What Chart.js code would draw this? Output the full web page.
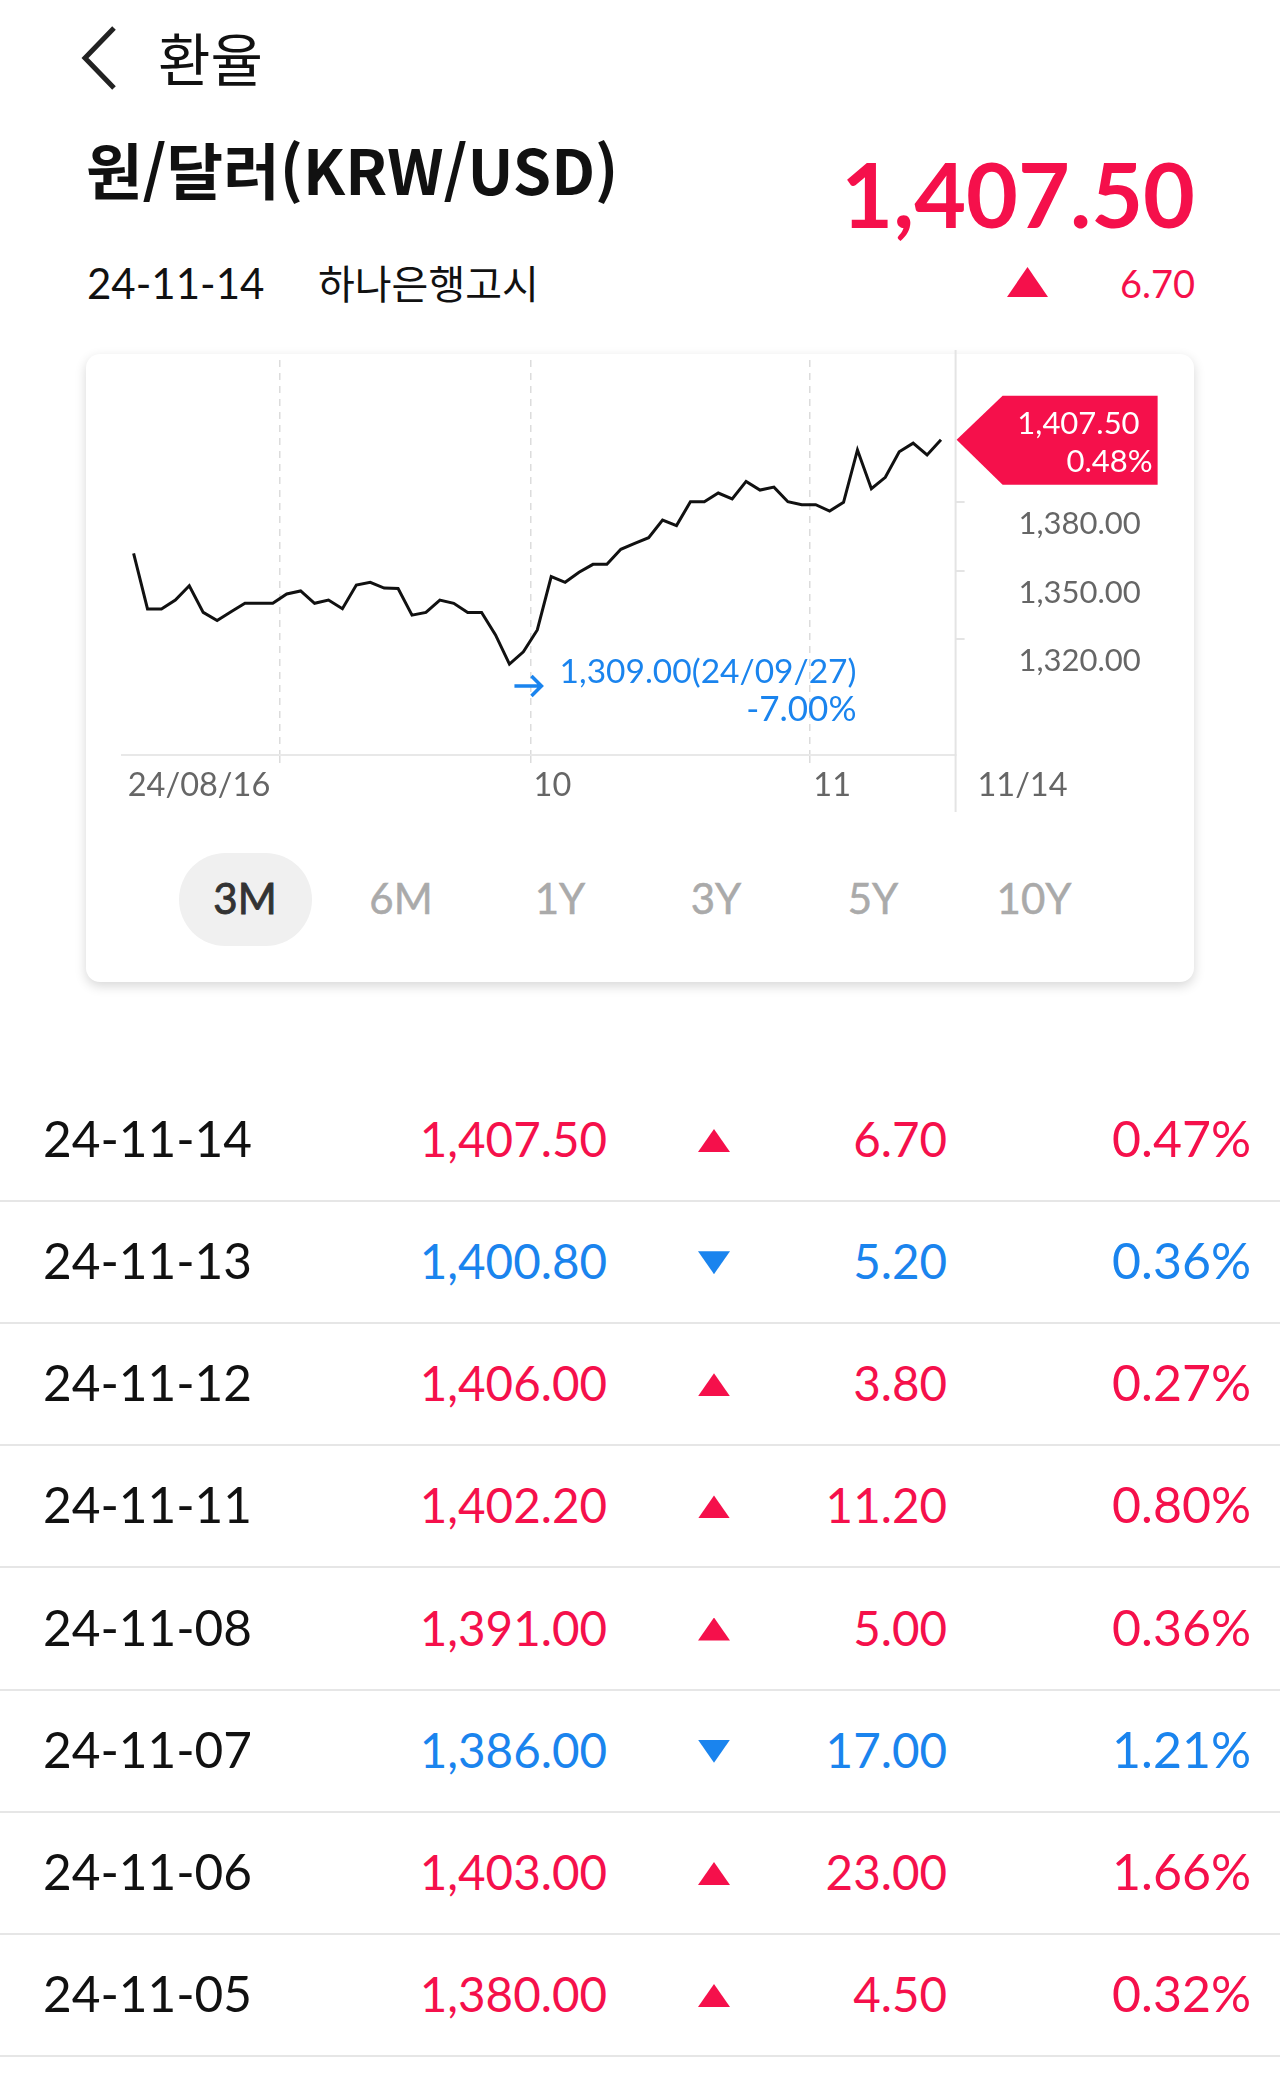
<!DOCTYPE html>
<html lang="ko">
<head>
  <meta charset="UTF-8">
  <title>환율</title>
  <script src="https://cdn.jsdelivr.net/npm/chart.js"></script>
  <style>
    html, body { margin: 0; padding: 0; background: #fff; }
    body { position: relative; width: 1280px; height: 2074px; overflow: hidden; font-family: Lato, sans-serif; color: #111; }
    .abs { position: absolute; white-space: nowrap; line-height: 1; }
    .kr { font-family: "Noto Sans CJK KR", sans-serif; }
    .red { color: #f5104b; }
    .blue { color: #1a84ee; }
    #card { position: absolute; left: 86px; top: 354px; width: 1108px; height: 628px; border-radius: 14px; background: #fff; box-shadow: 0 4px 12px rgba(0,0,0,.16); }
    #chart { position: absolute; left: 86px; top: 350px; }
    #pill { position: absolute; left: 179px; top: 853px; width: 133px; height: 93px; border-radius: 47px; background: #f0f0f0; }
    .range { position: absolute; top: 876px; width: 120px; text-align: center; font-size: 42px; line-height: 44px; color: #aaa; -webkit-text-stroke: 0.5px #aaa; }
    .range.on { color: #333; -webkit-text-stroke: 0.9px #333; }
    .row { position: absolute; left: 0; width: 1280px; height: 121px; border-bottom: 2px solid #e6e6e6; font-size: 47.5px; }
    .row span { position: absolute; top: 36px; line-height: 47px; white-space: nowrap; }
    .row .date { font-size: 49.5px; }
    .row .pct { font-size: 50px; }
    .tri { position: absolute; width: 32px; height: 23px; background: currentColor; clip-path: polygon(50% 0, 100% 100%, 0 100%); }
    .tri.down { clip-path: polygon(0 0, 100% 0, 50% 100%); }
  </style>
</head>
<body>
  <!-- Header -->
  <svg class="abs" style="left:80px;top:24px" width="40" height="68">
    <polyline points="34,4 5,34 34,64" fill="none" stroke="#222" stroke-width="5"/>
  </svg>
  <div class="abs kr" style="left:158px;top:28px;font-size:57px;line-height:56px">환율</div>
  <div class="abs kr" style="left:86px;top:131px;font-size:61.5px;line-height:76px;font-weight:700">원/달러(KRW/USD)</div>
  <div class="abs red" style="right:85px;top:149px;font-size:89.5px;line-height:90px;font-weight:700">1,407.50</div>
  <div class="abs" style="left:87px;top:263px;font-size:42px;line-height:41px">24-11-14</div>
  <div class="abs kr" style="left:318px;top:260px;font-size:40px;line-height:44px">하나은행고시</div>
  <div class="abs red" style="left:1007px;top:267px;width:41px;height:30px;background:#f5104b;clip-path:polygon(50% 0,100% 100%,0 100%)"></div>
  <div class="abs red" style="right:85px;top:265px;font-size:38px;line-height:37px">6.70</div>

  <!-- Chart card -->
  <div id="card"></div>
  <canvas id="chart" width="1108" height="470"></canvas>
  <div id="pill"></div>
  <div id="ranges"></div>

  <!-- Daily table -->
  <div id="table"></div>

  <script>
    // 3M daily close (last 8 match the table)
    const closes = [
      1357.6, 1333.2, 1333.2, 1337.1, 1343.4, 1331.7, 1328.1, 1332.0, 1335.7, 1335.7,
      1335.7, 1339.8, 1341.1, 1335.7, 1337.1, 1333.3, 1343.7, 1344.9, 1342.4, 1342.2,
      1330.5, 1331.7, 1337.1, 1335.7, 1331.7, 1331.7, 1321.8, 1309.0, 1314.4, 1324.0,
      1347.4, 1344.9, 1349.3, 1352.8, 1352.8, 1359.4, 1362.0, 1364.5, 1372.2, 1369.8,
      1380.3, 1380.3, 1384.1, 1381.5, 1389.2, 1385.4, 1386.7, 1380.3, 1379.0, 1379.0,
      1376.2, 1380.0, 1403.0, 1386.0, 1391.0, 1402.2, 1406.0, 1400.8, 1407.5
    ];
    const yTickValues = [1320, 1350, 1380];
    const yTickLabels = ['1,320.00', '1,350.00', '1,380.00'];
    const xTickValues = [-0.65, 10.5, 28.5, 48.6, 59.05];
    const xTickLabels = ['24/08/16', '', '10', '11', '\u00a0\u00a0\u200a11/14'];
    const lastLabels = ['1,407.50', '0.48%'];
    const lowLabels = ['1,309.00(24/09/27)', '-7.00%'];

    const ranges = ['3M', '6M', '1Y', '3Y', '5Y', '10Y'];
    const rangeCenters = [245, 401, 560, 716, 873, 1034];

    const rowDates = ['24-11-14', '24-11-13', '24-11-12', '24-11-11', '24-11-08', '24-11-07', '24-11-06', '24-11-05'];
    const rowPrices = ['1,407.50', '1,400.80', '1,406.00', '1,402.20', '1,391.00', '1,386.00', '1,403.00', '1,380.00'];
    const rowChanges = ['6.70', '5.20', '3.80', '11.20', '5.00', '17.00', '23.00', '4.50'];
    const rowPercents = ['0.47%', '0.36%', '0.27%', '0.80%', '0.36%', '1.21%', '1.66%', '0.32%'];
    const rowUp = [true, false, true, true, true, false, true, true];

    const RED = '#f5104b';
    const BLUE = '#1a84ee';
    const FONT = 'Lato, sans-serif';

    // Range buttons
    document.getElementById('ranges').innerHTML = ranges.map((r, i) =>
      `<div class="range${i === 0 ? ' on' : ''}" style="left:${rangeCenters[i] - 60}px">${r}</div>`).join('');

    // Table rows
    document.getElementById('table').innerHTML = rowDates.map((d, i) => {
      const cls = rowUp[i] ? 'red' : 'blue';
      return `<div class="row" style="top:${1079 + i * 122.15}px">
        <span class="date" style="left:43px">${d}</span>
        <span class="${cls}" style="right:673px">${rowPrices[i]}</span>
        <div class="tri ${cls}${rowUp[i] ? '' : ' down'}" style="left:698px;top:50px"></div>
        <span class="${cls}" style="right:333px">${rowChanges[i]}</span>
        <span class="pct ${cls}" style="right:29px">${rowPercents[i]}</span>
      </div>`;
    }).join('');

    // Axis line, last-price flag and low-point note
    const overlay = {
      id: 'overlay',
      afterDatasetsDraw(chart) {
        const { ctx, scales: { x, y } } = chart;
        const axisX = x.right;
        ctx.save();
        ctx.strokeStyle = '#e4e4e4';
        ctx.lineWidth = 2;
        ctx.beginPath();
        ctx.moveTo(axisX, 0);
        ctx.lineTo(axisX, 462);
        ctx.stroke();

        // red flag at the last value
        const lastY = y.getPixelForValue(closes[closes.length - 1]);
        ctx.fillStyle = RED;
        ctx.beginPath();
        ctx.moveTo(axisX + 1, lastY);
        ctx.lineTo(axisX + 47, lastY - 44);
        ctx.lineTo(axisX + 202, lastY - 44);
        ctx.lineTo(axisX + 202, lastY + 45);
        ctx.lineTo(axisX + 47, lastY + 45);
        ctx.closePath();
        ctx.fill();
        ctx.fillStyle = '#fff';
        ctx.font = '31px ' + FONT;
        ctx.textAlign = 'right';
        ctx.textBaseline = 'middle';
        ctx.fillText(lastLabels[0], axisX + 184, lastY - 16);
        ctx.fillText(lastLabels[1], axisX + 197, lastY + 22);

        // blue note under the lowest value
        const low = Math.min(...closes);
        const lowX = x.getPixelForValue(closes.indexOf(low));
        const lowY = y.getPixelForValue(low);
        ctx.strokeStyle = BLUE;
        ctx.lineWidth = 3.5;
        ctx.beginPath();
        ctx.moveTo(lowX + 5, lowY + 22);
        ctx.lineTo(lowX + 31, lowY + 22);
        ctx.moveTo(lowX + 22, lowY + 12);
        ctx.lineTo(lowX + 32, lowY + 22);
        ctx.lineTo(lowX + 22, lowY + 32);
        ctx.stroke();
        ctx.fillStyle = BLUE;
        ctx.font = '33.5px ' + FONT;
        ctx.textAlign = 'right';
        ctx.fillText(lowLabels[0], lowX + 347, lowY + 8);
        ctx.font = '35px ' + FONT;
        ctx.fillText(lowLabels[1], lowX + 347, lowY + 46);
        ctx.restore();
      }
    };

    const showGrid = ctx => (ctx.index > 0 && ctx.index < 4 ? '#dcdcdc' : 'transparent');

    new Chart(document.getElementById('chart'), {
      type: 'line',
      data: {
        datasets: [{
          data: closes.map((v, i) => ({ x: i, y: v })),
          borderColor: '#111',
          borderWidth: 3,
          pointRadius: 0,
          tension: 0
        }]
      },
      options: {
        responsive: false,
        animation: false,
        layout: { padding: { left: 36, top: 10 } },
        plugins: { legend: { display: false }, tooltip: { enabled: false } },
        scales: {
          x: {
            type: 'linear',
            min: -0.833,
            max: 59.05,
            afterBuildTicks: s => { s.ticks = xTickValues.map(v => ({ value: v })); },
            afterFit: s => { s.height = 65; s.paddingLeft = 0; s.paddingRight = 0; },
            border: { color: '#e8e8e8', width: 2, dash: [7, 6] },
            grid: {
              color: showGrid,
              tickColor: showGrid,
              tickBorderDash: [7, 6],
              lineWidth: 1.5,
              tickLength: 12
            },
            ticks: {
              callback: (v, i) => xTickLabels[i],
              autoSkip: false,
              maxRotation: 0,
              align: 'start',
              labelOffset: 3.2,
              padding: 2.5,
              color: '#666',
              font: { family: FONT, size: 32.5, lineHeight: 1 }
            }
          },
          y: {
            position: 'right',
            min: 1269.1,
            max: 1442.5,
            afterBuildTicks: s => { s.ticks = yTickValues.map(v => ({ value: v })); },
            afterFit: s => { s.width = 238.4; s.paddingTop = 0; s.paddingBottom = 0; },
            border: { display: false },
            grid: { drawOnChartArea: false, color: '#e4e4e4', lineWidth: 2, tickLength: 9 },
            ticks: {
              // empty first line drops the label below its tick mark
              callback: (v, i) => ['', yTickLabels[i]],
              autoSkip: false,
              padding: 54,
              color: '#666',
              font: { family: FONT, size: 31, lineHeight: 1.42 }
            }
          }
        }
      },
      plugins: [overlay]
    });
  </script>
</body>
</html>
